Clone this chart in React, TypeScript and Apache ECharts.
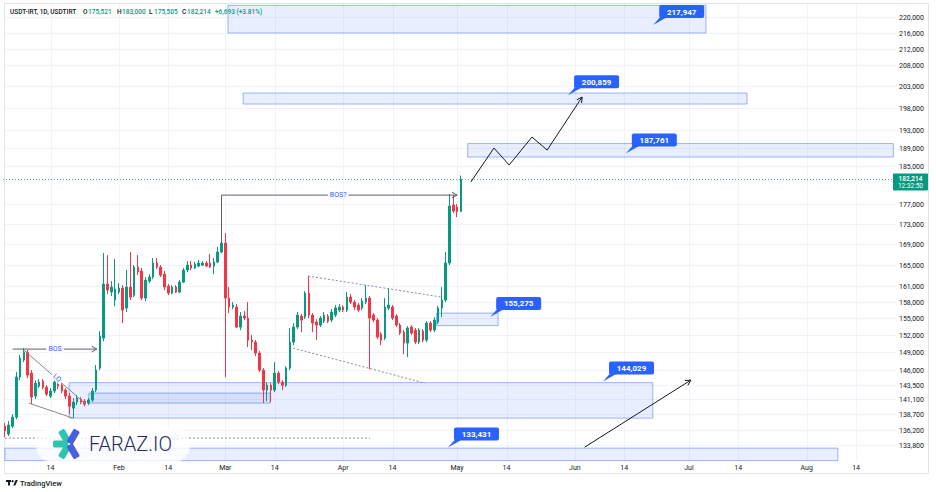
import React, { useEffect, useRef } from 'react';
import * as echarts from 'echarts';

const FONT = 'Roboto, "Noto Sans", "DejaVu Sans", sans-serif';

// ---- time axis ----
const firstDateUTC = Date.UTC(2026, 0, 2);
const dayCount = 235;
const monthNames = ['Jan', 'Feb', 'Mar', 'Apr', 'May', 'Jun', 'Jul', 'Aug', 'Sep', 'Oct', 'Nov', 'Dec'];

// ---- candles: [open, close, low, high] ----
const candles: number[][] = [
  [136770, 135980, 135040, 137250], [135510, 136930, 135190, 137570], [136770, 138210, 136460, 138690],
  [138210, 144790, 137890, 145630], [144790, 148020, 144280, 148530], [147680, 149050, 147330, 149750],
  [149050, 145120, 144620, 149400], [145460, 141460, 140310, 145970], [141620, 143780, 141130, 144280],
  [143270, 143950, 142950, 144450], [144110, 143110, 142780, 144450], [143110, 141950, 141620, 143440],
  [141620, 142450, 141300, 142950], [142450, 143950, 142120, 144450], [143950, 143270, 142780, 144280],
  [143440, 142450, 142120, 143780], [142620, 141620, 141130, 142950], [141620, 139980, 138690, 142120],
  [139660, 140640, 138050, 141300], [140640, 141300, 140150, 141790], [141130, 140640, 140310, 141460],
  [140800, 140310, 139980, 141130], [140480, 140970, 140150, 141300], [140970, 142450, 140640, 142950],
  [142620, 145970, 142280, 146820], [146310, 151850, 145970, 152740], [151500, 161310, 150970, 167220],
  [161310, 160190, 159440, 166830], [159820, 160750, 159070, 161870], [158340, 160380, 157240, 166070],
  [159820, 160560, 159440, 161500], [160560, 156510, 154160, 161120], [156880, 160750, 156150, 163960],
  [160750, 158890, 158340, 167420], [159250, 164530, 158890, 164910], [164530, 163570, 163000, 166830],
  [163760, 158710, 158340, 164340], [158710, 162060, 158160, 162630], [161870, 162630, 161500, 163190],
  [162630, 165300, 162250, 166260], [165300, 164530, 164150, 166260], [164530, 163000, 162630, 164910],
  [163190, 160750, 160190, 163760], [160930, 159630, 159250, 161310], [159630, 160750, 159440, 161120],
  [160750, 159820, 159630, 161120], [159820, 161680, 159630, 162060], [161680, 163960, 161500, 164340],
  [163960, 164910, 163570, 165680], [164910, 164340, 163960, 165680], [164340, 165100, 164150, 165490],
  [164720, 165300, 164530, 165870], [164910, 165300, 164720, 165680], [165300, 164720, 164530, 165680],
  [165300, 164530, 164340, 167030], [164720, 165490, 163190, 166260], [165490, 167420, 165300, 168400],
  [167420, 169180, 167220, 169770], [169180, 158710, 144790, 171160], [158710, 157060, 155970, 160750],
  [157060, 157420, 156690, 157970], [157060, 153450, 153270, 157600], [153450, 155420, 152920, 156150],
  [155420, 155060, 154700, 156330], [155060, 151150, 149920, 157970], [151150, 150800, 149400, 152030],
  [150800, 148880, 148360, 151150], [148880, 145970, 145630, 149230], [145970, 142620, 140480, 146310],
  [142620, 143440, 140800, 143950], [143440, 142620, 140640, 143780], [142620, 145460, 142280, 147330],
  [145460, 143950, 143610, 145800], [143950, 143440, 142620, 144280], [143440, 146310, 143110, 146640],
  [146310, 150800, 145970, 153270], [150800, 153450, 150270, 154160], [153450, 155600, 153090, 156150],
  [155420, 154700, 152560, 155780], [155240, 159630, 154880, 160000], [159630, 155600, 155060, 162810],
  [155600, 154160, 152560, 155970], [154340, 153800, 151150, 154880], [153800, 155060, 153450, 155420],
  [154520, 155600, 154160, 156150], [155420, 154520, 154160, 155780], [154700, 156150, 154340, 156690],
  [155600, 156880, 155240, 157420], [156510, 157060, 156150, 157600], [157060, 156510, 156150, 157420],
  [156510, 158890, 156150, 159820], [158890, 157970, 157600, 159440], [157970, 157060, 156510, 158340],
  [157420, 156510, 156150, 157790], [156880, 158160, 156510, 158710], [157970, 158710, 157600, 161120],
  [158710, 155060, 146140, 159070], [155600, 154700, 154340, 155970], [154700, 151680, 151320, 155060],
  [152200, 151150, 150270, 152560], [151500, 157060, 151150, 158710], [156880, 157420, 156510, 160560],
  [157060, 155060, 154700, 157420], [155420, 153800, 153450, 155780], [153800, 152380, 152030, 154160],
  [152560, 150620, 148710, 152920], [150620, 153270, 148190, 153620], [153450, 152380, 152030, 153800],
  [152920, 150800, 150450, 153270], [150800, 152920, 150450, 153270], [152740, 151150, 150800, 153090],
  [151150, 154160, 150800, 154520], [154160, 152920, 152560, 154520], [152920, 154700, 152560, 155240],
  [154340, 156880, 153980, 157240], [156880, 158340, 155240, 160750], [158340, 165300, 157970, 167420],
  [165300, 176610, 164910, 179090], [176820, 175590, 175180, 178880], [176410, 175521, 174370, 177030],
  [175521, 182214, 175505, 183000],
];

// ---- price scale ----
const priceTicks = [
  220000, 216000, 212000, 208000, 203000, 198000, 193000, 189000, 185000, 177000, 173000, 169000,
  165000, 161000, 158000, 155000, 152000, 149000, 146000, 143500, 141100, 138700, 136200, 133800,
];
const priceTop = 223350;
const priceBottom = 131340;
const lastPrice = 182214;
const countdown = '12:32:50';

// ---- header ----
const headerSymbol = 'USDT-IRT, 1D, USDTIRT';
const headerOHLC = [['O', '175,521'], ['H', '183,000'], ['L', '175,505'], ['C', '182,214']];
const headerChange = '+6,693 (+3.81%)';

// ---- zones: [fromDay, toDay, topPrice, bottomPrice] ----
const zones = [
  [59.7, 185.5, 223000, 215950],
  [63.7, 196.3, 201400, 198840],
  [122.8, 234.8, 189920, 186970],
  [114.6, 130.8, 155965, 153710],
  [17.9, 171.5, 143860, 138050],
  [23.1, 70.8, 142120, 140480],
  [1.0, 220.2, 133320, 131400],
];

// ---- callouts: [day, price] ----
const callouts = [
  [171.6, 217947], [149.2, 200859], [164.4, 187761], [128.7, 155275], [158.4, 144029], [117.6, 133431],
];

// ---- drawings: points [day, price] ----
const bosLine = [[3.05, 149575], [25.2, 149575]];
const bosQLine = [[58, 169180], [58, 178880], [120, 178880]];
const lqUpper = [[6.0, 149400], [22.3, 140310]];
const lqLower = [[7.3, 140480], [18.9, 138050]];
const wedgeUpper = [[80.8, 162810], [116.0, 158890]];
const wedgeLower = [[76.8, 149750], [111.5, 143780]];
const lqLevel = [[1, 134880], [97.1, 134880]];
const forecastPath = [[123.6, 181610], [129.7, 188930], [133.7, 185250], [139.7, 191360], [143.7, 188490], [152.9, 200470]];
const targetArrow = [[153.6, 133480], [181.5, 144280]];

const drawings: any[] = [
  { pts: bosLine, color: '#5d606b', arrow: true },
  { pts: bosQLine, color: '#5d606b', arrow: true },
  { pts: lqUpper, color: '#868993' },
  { pts: lqLower, color: '#868993' },
  { pts: wedgeUpper, color: '#8a8d96', dash: [2, 2] },
  { pts: wedgeLower, color: '#8a8d96', dash: [2, 2] },
  { pts: lqLevel, color: '#8a8d96', dash: [2, 2] },
  { pts: forecastPath, color: '#131722', arrow: true },
  { pts: targetArrow, color: '#131722', arrow: true },
];

const lineLabels: any[] = [
  { text: 'BOS', at: [14.2, 149575], color: '#2962ff', bg: true },
  { text: 'BOS?', at: [88.7, 178880], color: '#2962ff', bg: true },
  { text: 'LQ', at: [14.7, 144620], color: '#2962ff', bg: true, along: lqUpper },
  { text: 'LQ', at: [45.8, 134880], color: 'rgba(41,98,255,0.55)', bg: false },
];

const L = Math.log;
const fmt = (n: number) => n.toLocaleString('en-US');

function buildOption(): any {
  const dates = Array.from({ length: dayCount }, (_, i) =>
    new Date(firstDateUTC + i * 86400000).toISOString().slice(0, 10)
  );
  const isLabelDate = (s: string) => {
    const dd = +s.slice(8, 10);
    return dd === 1 || dd === 14;
  };
  const labelFor = (s: string) => {
    const dd = +s.slice(8, 10);
    return dd === 1 ? monthNames[+s.slice(5, 7) - 1] : '14';
  };
  const gridDays = dates.map((s, i) => (isLabelDate(s) ? i + 1 : -1)).filter((d) => d > 0);
  const midY = L(lastPrice);

  const customBase = { type: 'custom', xAxisIndex: 1, yAxisIndex: 0, silent: true, clip: false };

  return {
    animation: false,
    backgroundColor: '#ffffff',
    grid: { left: 3, right: 40, top: 4, bottom: 31, containLabel: false, outerBoundsMode: 'none' },
    xAxis: [
      {
        type: 'category',
        data: dates,
        boundaryGap: true,
        axisLine: { show: false },
        axisTick: { show: false },
        splitLine: { show: false },
        axisLabel: {
          interval: (_i: number, v: string) => isLabelDate(v),
          formatter: (v: string) => labelFor(v),
          color: '#131722',
          fontSize: 7,
          fontFamily: FONT,
          margin: 3,
        },
      },
      { type: 'value', min: 0.5, max: dayCount + 0.5, show: false },
    ],
    yAxis: [{ type: 'value', min: L(priceBottom), max: L(priceTop), show: false, scale: true }],
    series: [
      {
        ...customBase,
        name: 'timeGrid',
        z: 1,
        data: gridDays.map((d) => [d, midY]),
        renderItem: (params: any, api: any) => {
          const cs = params.coordSys;
          const x = Math.round(api.coord([gridDays[params.dataIndex], midY])[0]) + 0.5;
          return {
            type: 'line',
            shape: { x1: x, y1: cs.y, x2: x, y2: cs.y + cs.height },
            style: { stroke: '#f0f3fa', lineWidth: 1 },
          };
        },
      },
      {
        ...customBase,
        name: 'priceScale',
        z: 1,
        data: priceTicks.map((t) => [1, L(t)]),
        renderItem: (params: any, api: any) => {
          const cs = params.coordSys;
          const t = priceTicks[params.dataIndex];
          const y = Math.round(api.coord([1, L(t)])[1]) + 0.5;
          return {
            type: 'group',
            children: [
              { type: 'line', shape: { x1: cs.x, y1: y, x2: cs.x + cs.width, y2: y }, style: { stroke: '#f0f3fa', lineWidth: 1 } },
              {
                type: 'text',
                style: {
                  text: fmt(t), x: cs.x + cs.width + 3, y,
                  align: 'left', verticalAlign: 'middle', textAlign: 'left', textVerticalAlign: 'middle',
                  fill: '#131722', fontSize: 7, fontFamily: FONT,
                },
              },
            ],
          };
        },
      },
      {
        ...customBase,
        name: 'zones',
        z: 2,
        data: zones.map((z) => [z[0], L(z[3])]),
        renderItem: (params: any, api: any) => {
          const [d1, d2, pt, pb] = zones[params.dataIndex];
          const a = api.coord([d1, L(pt)]);
          const b = api.coord([d2, L(pb)]);
          return {
            type: 'rect',
            shape: { x: a[0], y: a[1], width: b[0] - a[0], height: b[1] - a[1] },
            style: { fill: 'rgba(41,98,255,0.1)', stroke: 'rgba(41,98,255,0.45)', lineWidth: 1 },
          };
        },
      },
      {
        type: 'candlestick',
        name: 'USDTIRT',
        xAxisIndex: 0,
        yAxisIndex: 0,
        z: 3,
        barWidth: 2,
        silent: true,
        data: candles.map((c) => c.map(L)),
        itemStyle: {
          color: '#089981', color0: '#f23645', borderColor: '#089981', borderColor0: '#f23645', borderWidth: 1,
        },
      },
      {
        ...customBase,
        name: 'drawings',
        z: 4,
        data: drawings.map((d) => [d.pts[0][0], L(d.pts[0][1])]),
        renderItem: (params: any, api: any) => {
          const dr = drawings[params.dataIndex];
          const px = dr.pts.map((p: number[]) => api.coord([p[0], L(p[1])]));
          const children: any[] = [
            { type: 'polyline', shape: { points: px }, style: { stroke: dr.color, lineWidth: 1, fill: 'none', lineDash: dr.dash } },
          ];
          if (dr.arrow) {
            const [x2, y2] = px[px.length - 1];
            const [x1, y1] = px[px.length - 2];
            const ang = Math.atan2(y2 - y1, x2 - x1);
            const len = 6;
            const sp = 0.5;
            const a = [x2 - len * Math.cos(ang - sp), y2 - len * Math.sin(ang - sp)];
            const b = [x2 - len * Math.cos(ang + sp), y2 - len * Math.sin(ang + sp)];
            children.push({ type: 'polyline', shape: { points: [a, [x2, y2], b] }, style: { stroke: dr.color, lineWidth: 1, fill: 'none' } });
          }
          return { type: 'group', children };
        },
      },
      {
        ...customBase,
        name: 'lineLabels',
        z: 5,
        data: lineLabels.map((l) => [l.at[0], L(l.at[1])]),
        renderItem: (params: any, api: any) => {
          const lb = lineLabels[params.dataIndex];
          const [x, y] = api.coord([lb.at[0], L(lb.at[1])]);
          let rotation = 0;
          if (lb.along) {
            const p = lb.along.map((q: number[]) => api.coord([q[0], L(q[1])]));
            rotation = -Math.atan2(p[1][1] - p[0][1], p[1][0] - p[0][0]);
          }
          return {
            type: 'text',
            x, y, rotation,
            style: {
              text: lb.text, x: 0, y: 0,
              align: 'center', verticalAlign: 'middle', textAlign: 'center', textVerticalAlign: 'middle',
              fill: lb.color, fontSize: 7, fontFamily: FONT,
              backgroundColor: lb.bg ? '#ffffff' : 'transparent', padding: [0, 2],
            },
          };
        },
      },
      {
        ...customBase,
        name: 'callouts',
        z: 6,
        data: callouts.map((c) => [c[0], L(c[1])]),
        renderItem: (params: any, api: any) => {
          const [d, p] = callouts[params.dataIndex];
          const [ax, ay] = api.coord([d, L(p)]);
          const w = 45;
          const h = 13;
          const bx = ax + 6;
          const by = ay - 7 - h;
          return {
            type: 'group',
            children: [
              { type: 'polygon', shape: { points: [[ax, ay], [bx + 1, ay - 8], [bx + 8, ay - 8]] }, style: { fill: '#2962ff' } },
              { type: 'rect', shape: { x: bx, y: by, width: w, height: h, r: 2 }, style: { fill: '#2962ff' } },
              {
                type: 'text',
                style: {
                  text: fmt(p), x: bx + w / 2, y: by + h / 2 + 0.5,
                  align: 'center', verticalAlign: 'middle', textAlign: 'center', textVerticalAlign: 'middle',
                  fill: '#ffffff', fontSize: 8, fontWeight: 'bold', fontFamily: FONT,
                },
              },
            ],
          };
        },
      },
      {
        ...customBase,
        name: 'lastPrice',
        z: 7,
        data: [[1, L(lastPrice)]],
        renderItem: (params: any, api: any) => {
          const cs = params.coordSys;
          const y = Math.round(api.coord([1, L(lastPrice)])[1]) + 0.5;
          const right = cs.x + cs.width;
          return {
            type: 'group',
            children: [
              { type: 'line', shape: { x1: cs.x, y1: y, x2: right, y2: y }, style: { stroke: 'rgba(8,153,129,0.75)', lineWidth: 1, lineDash: [1, 2] } },
              { type: 'rect', shape: { x: right - 3, y: y - 6, width: 35, height: 17, r: 1 }, style: { fill: '#089981' } },
              {
                type: 'text',
                style: {
                  text: fmt(lastPrice), x: right + 14.5, y: y - 0.5,
                  align: 'center', verticalAlign: 'middle', textAlign: 'center', textVerticalAlign: 'middle',
                  fill: '#ffffff', fontSize: 6.5, fontWeight: 600, fontFamily: FONT,
                },
              },
              {
                type: 'text',
                style: {
                  text: countdown, x: right + 14.5, y: y + 6.5,
                  align: 'center', verticalAlign: 'middle', textAlign: 'center', textVerticalAlign: 'middle',
                  fill: '#ffffff', fontSize: 6.5, fontFamily: FONT,
                },
              },
            ],
          };
        },
      },
    ],
    graphic: buildGraphic(),
  };
}

function buildGraphic(): any[] {
  const txt = (x: number, y: number, text: string, fill: string, size: number, weight: any = 'normal', z = 100) => ({
    type: 'text', x, y, z, silent: true,
    style: {
      text, fill, fontSize: size, fontWeight: weight, fontFamily: FONT,
      verticalAlign: 'middle', textVerticalAlign: 'middle', align: 'left', textAlign: 'left',
    },
  });
  const els: any[] = [];
  // frame
  els.push({ type: 'rect', z: 0, silent: true, shape: { x: 4.5, y: 3.5, width: 924, height: 470 }, style: { fill: 'none', stroke: '#e0e3eb', lineWidth: 1 } });
  // header
  els.push(txt(10, 12, headerSymbol, '#131722', 6.5, 500));
  const hx = [83, 117, 149, 182];
  headerOHLC.forEach(([k, v], i) => {
    els.push(txt(hx[i], 12, k, '#131722', 6.5, 500));
    els.push(txt(hx[i] + 5, 12, v, '#089981', 6.5, 500));
  });
  els.push(txt(215, 12, headerChange, '#089981', 6.5, 500));
  // watermark logo
  els.push({ type: 'rect', z: 100, silent: true, shape: { x: 36, y: 427, width: 154, height: 36, r: 18 }, style: { fill: 'rgba(255,255,255,0.8)' } });
  const arm = (deg: number, color: string) => ({
    type: 'rect', z: 101, silent: true, x: 69, y: 444, rotation: (deg * Math.PI) / 180,
    shape: { x: 1, y: -3.5, width: 15, height: 7, r: 1.5 }, style: { fill: color },
  });
  els.push(arm(180, '#2ec4b0'), arm(120, '#2ec4b0'), arm(240, '#2ec4b0'), arm(60, '#4a5ee0'), arm(300, '#4a5ee0'));
  els.push(txt(89, 444, 'FARAZ.IO', '#262a5c', 20, 300, 101));
  // footer
  els.push({ type: 'rect', z: 100, silent: true, shape: { x: 6, y: 480, width: 5, height: 2 }, style: { fill: '#131722' } });
  els.push({ type: 'rect', z: 100, silent: true, shape: { x: 8, y: 480, width: 2, height: 5.5 }, style: { fill: '#131722' } });
  els.push({ type: 'circle', z: 100, silent: true, shape: { cx: 12.6, cy: 481.2, r: 1.1 }, style: { fill: '#131722' } });
  els.push({ type: 'polygon', z: 100, silent: true, shape: { points: [[13.2, 485.5], [15.6, 480], [17.8, 480], [15.3, 485.5]] }, style: { fill: '#131722' } });
  els.push(txt(20, 483, 'TradingView', '#131722', 7.5, 500));
  return els;
}

export default function App() {
  const ref = useRef<HTMLDivElement>(null);
  useEffect(() => {
    if (!ref.current) return;
    const chart = echarts.init(ref.current, null, { renderer: 'svg' });
    chart.setOption(buildOption());
    return () => chart.dispose();
  }, []);
  return (
    <div
      ref={ref}
      style={{ position: 'fixed', left: 0, top: 0, width: 936, height: 492, background: '#ffffff' }}
    />
  );
}
